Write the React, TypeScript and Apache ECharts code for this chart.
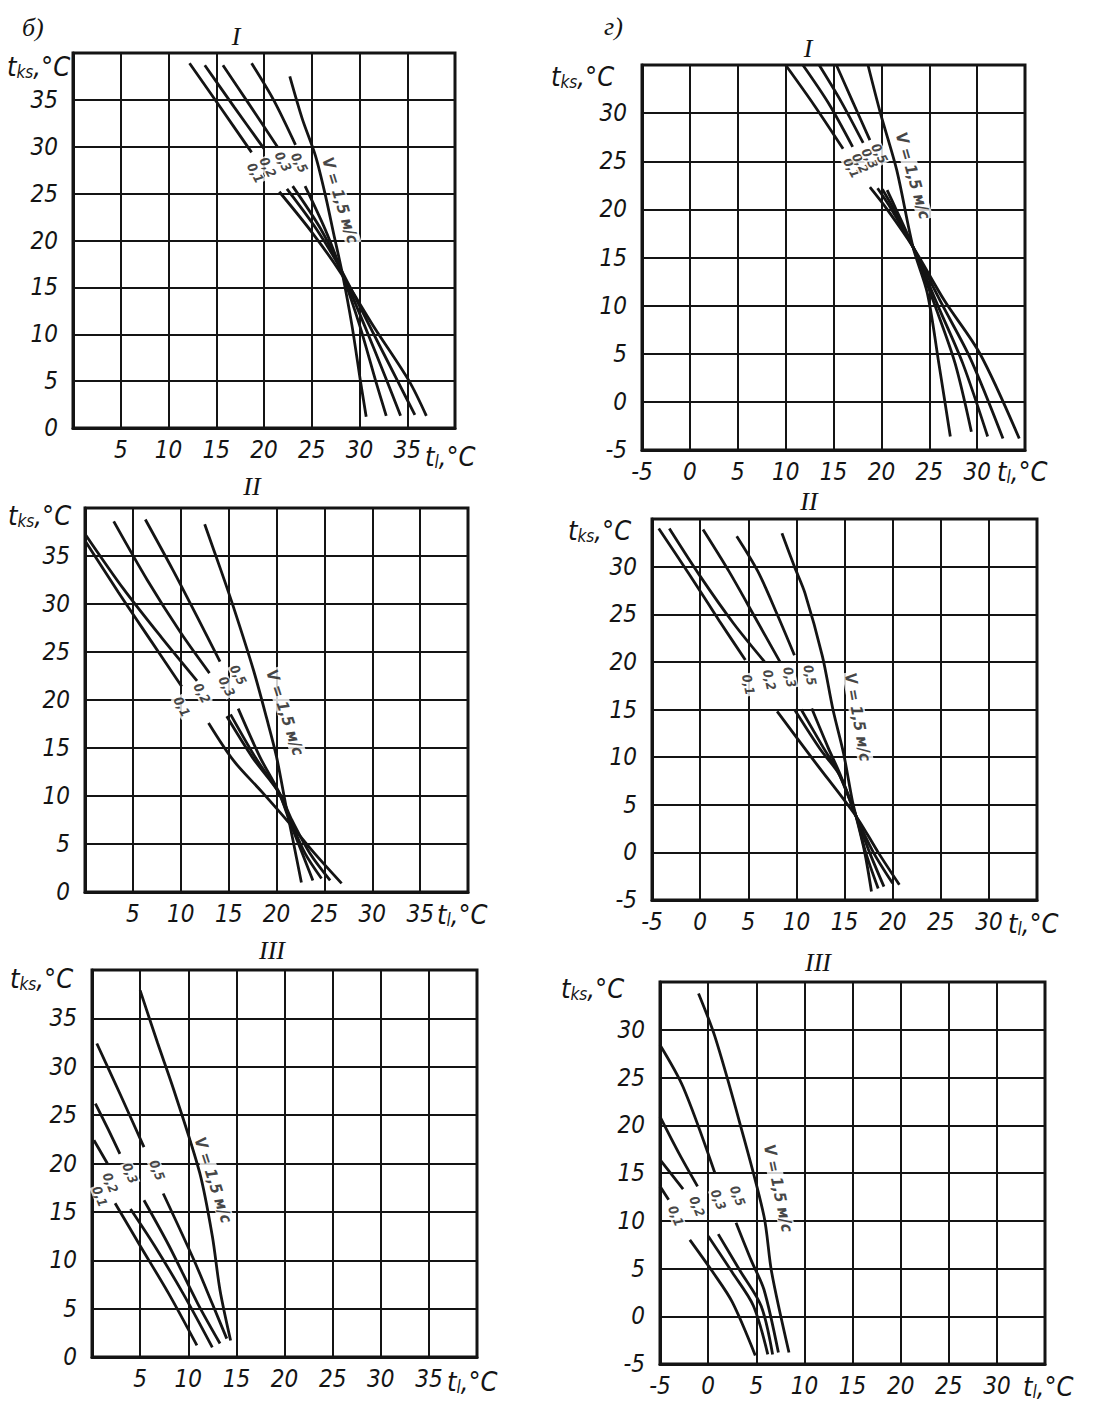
import React, { useEffect, useRef } from 'react';
import * as echarts from 'echarts';

type P = [number, number] | null;

// ---------- Panel б) I ----------
const a_v01: P[] = [[12.2, 38.9], [15.5, 34.1], [18.7, 29.4], null, [21.6, 25.2], [25, 20.9], [28, 16.6], [31.5, 10.8], [35.2, 5], [37, 1.3]];
const a_v02: P[] = [[13.8, 38.7], [16.9, 34.2], [20, 29.8], null, [22.4, 25.5], [25.5, 21.2], [28, 17], [31, 11], [34, 5], [35.8, 1.4]];
const a_v03: P[] = [[15.7, 38.7], [18.4, 34.6], [21.4, 30], null, [23, 25.8], [25.9, 21.3], [28, 17], [30.5, 11], [32.8, 5.2], [34.3, 1.3]];
const a_v05: P[] = [[18.7, 38.9], [21, 35], [23.3, 30.2], null, [24.3, 25.8], [26.4, 21.2], [28, 17], [30, 11], [31.7, 5], [32.8, 1.3]];
const a_v15: P[] = [[22.7, 37.5], [24, 33], [25.4, 29], [26.5, 24.5], [27.3, 20.7], [28.2, 16.5], [29.2, 11], [30.1, 5], [30.7, 1.2]];
const a_smallPos: [number, number][] = [[19.1, 27.2], [20.4, 27.8], [22.0, 28.4], [23.7, 28.3]];
const a_vPos: [number, number] = [28.0, 24.3];

// ---------- Panel г) I ----------
const b_v01: P[] = [[10, 35], [13, 30.8], [16, 26.3], null, [18.8, 22.3], [20.6, 20], [23.3, 16.1], [26.6, 10.5], [30.3, 5], [34.4, -3.8]];
const b_v02: P[] = [[11.8, 35], [14.5, 31], [17, 26.5], null, [19.6, 22.2], [21, 20.1], [23.3, 16.1], [26.3, 10.2], [29.3, 4.5], [32.7, -3.8]];
const b_v03: P[] = [[13.5, 35], [15.8, 31.2], [18.1, 26.9], null, [20.1, 22.1], [21.2, 20.2], [23.3, 16.1], [25.9, 10], [28.5, 4], [31.1, -3.6]];
const b_v05: P[] = [[15.3, 35], [17, 31.2], [18.8, 27.2], null, [20.6, 22], [21.4, 20.3], [23.3, 16.1], [25.6, 10], [27.7, 4], [29.4, -3.1]];
const b_v15: P[] = [[18.6, 35], [19.9, 30], [21.6, 24.1], [23.3, 16.1], [24.8, 11.3], [26, 4], [27.2, -3.6]];
const b_smallPos: [number, number][] = [[16.9, 24.3], [17.8, 24.8], [18.8, 25.3], [19.8, 25.8]];
const b_vPos: [number, number] = [23.3, 23.5];

// ---------- Panel б) II ----------
const c_v01: P[] = [[0, 36.6], [3.5, 31.2], [7, 26], [10.1, 21.4], null, [12.9, 17.6], [15.5, 13.7], [18.5, 10.4], [21.4, 7.1], [24, 4], [26.8, 0.9]];
const c_v02: P[] = [[0, 37.3], [4, 31.6], [8, 26.5], [11.7, 22], null, [14.8, 18.3], [17.5, 14], [20.3, 10.3], [21.6, 7.5], [23.5, 4], [25.6, 1.2]];
const c_v03: P[] = [[3, 38.6], [6.5, 32.5], [10, 27], [13, 22.8], null, [15.2, 18.5], [17.8, 14], [20.2, 10.4], [21.5, 7.3], [23, 4], [24.7, 1.4]];
const c_v05: P[] = [[6.3, 38.8], [9.2, 33.5], [11.8, 28.5], [14.1, 24], null, [16, 19.1], [18.3, 14], [20.2, 10.5], [21.4, 7.3], [22.7, 4], [23.8, 1.2]];
const c_v15: P[] = [[12.5, 38.3], [14.2, 33.5], [15.5, 29.7], [17.6, 23.1], [19, 18], [20, 14.1], [21, 8.9], [21.7, 5.5], [22.6, 1.0]];
const c_smallPos: [number, number][] = [[10.1, 19.3], [12.2, 20.7], [14.8, 21.4], [16, 22.6]];
const c_vPos: [number, number] = [20.9, 18.7];

// ---------- Panel г) II ----------
const d_v01: P[] = [[-4.3, 34], [-1, 29], [2, 24.3], [4.7, 20.2], null, [8, 14.8], [12, 9.4], [16.2, 3.8], [18.5, 0], [20.7, -3.4]];
const d_v02: P[] = [[-3.2, 34], [0, 29], [3.5, 24], [6.7, 20], null, [9.8, 15], [12.5, 10.8], [14.5, 8.1], [16.2, 3.8], [18, 0], [20, -3.25]];
const d_v03: P[] = [[0.3, 33.9], [3, 29.5], [5.8, 24.5], [8.3, 20], null, [10.5, 15], [12.8, 11], [14.4, 8.3], [16.2, 3.8], [17.6, 0], [19.1, -3.6]];
const d_v05: P[] = [[3.8, 33.2], [6, 29.5], [8, 25], [9.8, 20.7], null, [11.6, 15.1], [13.3, 11], [14.5, 8.3], [16.2, 3.8], [17.2, 0], [18.5, -3.8]];
const d_v15: P[] = [[8.5, 33.5], [9.8, 30], [10.9, 27.2], [12.7, 20.6], [13.8, 15], [14.9, 10.4], [15.8, 5.5], [16.2, 3.8], [17.1, 0], [17.8, -4.1]];
const d_smallPos: [number, number][] = [[5.0, 17.6], [7.2, 18.1], [9.3, 18.4], [11.4, 18.6]];
const d_vPos: [number, number] = [16.4, 14.2];

// ---------- Panel б) III ----------
const e_v01: P[] = [[2.4, 15.9], [5, 11.5], [8, 6.5], [10.9, 1.2]];
const e_v02: P[] = [[0.2, 22.4], [1.6, 20], null, [4, 15.3], [6.5, 11.5], [9.5, 6.5], [12.5, 1.0]];
const e_v03: P[] = [[0.35, 26.2], [1.7, 23.5], [2.9, 21], null, [5.4, 16.2], [8, 11.5], [11, 5.5], [13.3, 1.4]];
const e_v05: P[] = [[0.5, 32.4], [3, 27], [5.4, 21.7], null, [7.4, 16.9], [10.6, 10], [12.5, 5.5], [14, 1.9]];
const e_v15: P[] = [[5, 37.9], [6.8, 32.5], [8.5, 27.6], [11.2, 19], [12.5, 12.5], [13.3, 6.9], [14.4, 1.7]];
const e_smallPos: [number, number][] = [[0.8, 16.6], [1.9, 18.0], [3.95, 19.0], [6.75, 19.3]];
const e_vPos: [number, number] = [12.6, 18.3];

// ---------- Panel г) III ----------
const f_v01: P[] = [[-5, 13.6], [-4.1, 12.2], null, [-1.9, 8], [0.5, 4.6], [2.5, 1.5], [4.9, -4.1]];
const f_v02: P[] = [[-5, 16.4], [-2.6, 13.3], null, [0, 8.4], [2.5, 4.6], [4.7, 1.1], [6.2, -4]];
const f_v03: P[] = [[-5, 20.9], [-3, 17], [-1.1, 13.6], null, [1.05, 8.6], [3.3, 4.8], [5.5, 1.1], [6.7, -4]];
const f_v05: P[] = [[-5, 28.4], [-2.6, 24], [0.7, 15], null, [2.9, 9.8], [4.5, 5.8], [5.8, 2.8], [7.3, -3.8]];
const f_v15: P[] = [[-1, 33.8], [0.7, 29.3], [3.3, 20.2], [5.8, 10.5], [6.6, 4.6], [8.4, -3.8]];
const f_smallPos: [number, number][] = [[-3.35, 10.5], [-1.15, 11.5], [1.05, 12.2], [3.07, 12.6]];
const f_vPos: [number, number] = [7.3, 13.4];

const smallLabels = ['0,1', '0,2', '0,3', '0,5'];
const V_LABEL = 'V = 1,5 м/с';
const panelLetters = ['б)', 'г)'];
const romans = ['I', 'I', 'II', 'II', 'III', 'III'];

const INK = '#141414';
const FONT = "'Liberation Sans Narrow', 'DejaVu Sans Condensed', 'Liberation Sans', 'DejaVu Sans', sans-serif";
const SERIF = "'Liberation Serif', 'DejaVu Serif', serif";

const panels = [
  { grid: { left: 73, top: 53, width: 382, height: 375 }, x: [0, 40], y: [0, 40], curves: [a_v01, a_v02, a_v03, a_v05, a_v15], small: a_smallPos, vPos: a_vPos, sRot: -62, vRot: -73, ks: [7, 50], tl: [425, 440], rom: [236, 36] },
  { grid: { left: 642, top: 65, width: 383, height: 385 }, x: [-5, 35], y: [-5, 35], curves: [b_v01, b_v02, b_v03, b_v05, b_v15], small: b_smallPos, vPos: b_vPos, sRot: -62, vRot: -74, ks: [551, 60], tl: [997, 455], rom: [808, 48] },
  { grid: { left: 85, top: 508, width: 383, height: 384 }, x: [0, 40], y: [0, 40], curves: [c_v01, c_v02, c_v03, c_v05, c_v15], small: c_smallPos, vPos: c_vPos, sRot: -62, vRot: -72, ks: [8, 499], tl: [437, 898], rom: [252, 486] },
  { grid: { left: 652, top: 519, width: 385, height: 381 }, x: [-5, 35], y: [-5, 35], curves: [d_v01, d_v02, d_v03, d_v05, d_v15], small: d_smallPos, vPos: d_vPos, sRot: -78, vRot: -80, ks: [568, 514], tl: [1008, 907], rom: [809, 501] },
  { grid: { left: 92, top: 970, width: 385, height: 387 }, x: [0, 40], y: [0, 40], curves: [e_v01, e_v02, e_v03, e_v05, e_v15], small: e_smallPos, vPos: e_vPos, sRot: -68, vRot: -72, ks: [10, 962], tl: [447, 1365], rom: [272, 950] },
  { grid: { left: 660, top: 982, width: 385, height: 382 }, x: [-5, 35], y: [-5, 35], curves: [f_v01, f_v02, f_v03, f_v05, f_v15], small: f_smallPos, vPos: f_vPos, sRot: -68, vRot: -78, ks: [561, 972], tl: [1023, 1370], rom: [818, 962] },
];

const tickLabel = {
  color: INK,
  fontFamily: FONT,
  fontStyle: 'italic' as const,
  fontSize: 24,
};

function axisName(sub: string, x: number, y: number) {
  return {
    type: 'text',
    x,
    y,
    silent: true,
    style: {
      text: `{t|t}{s|${sub}}{t|,°C}`,
      fill: INK,
      rich: {
        t: { fontSize: 27, fontFamily: FONT, fontStyle: 'italic', fill: INK, lineHeight: 30, verticalAlign: 'bottom' },
        s: { fontSize: 17, fontFamily: FONT, fontStyle: 'italic', fill: INK, lineHeight: 17, verticalAlign: 'bottom' },
      },
    },
  };
}

function buildOption() {
  const grid: any[] = [];
  const xAxis: any[] = [];
  const yAxis: any[] = [];
  const series: any[] = [];
  const graphic: any[] = [];

  panels.forEach((p, i) => {
    grid.push({ ...p.grid, show: true, borderColor: INK, borderWidth: 3, backgroundColor: '#fff' });
    const [xmin, xmax] = p.x;
    const [ymin, ymax] = p.y;
    xAxis.push({
      gridIndex: i, type: 'value', min: xmin, max: xmax, interval: 5,
      axisLine: { show: true, onZero: false, lineStyle: { color: INK, width: 3 } },
      axisTick: { show: false },
      splitLine: { show: true, lineStyle: { color: INK, width: 2 } },
      axisLabel: {
        ...tickLabel, margin: 10, showMinLabel: true, showMaxLabel: true,
        formatter: (v: number) => (v === xmax || (v === 0 && xmin === 0) ? '' : String(v)),
      },
    });
    yAxis.push({
      gridIndex: i, type: 'value', min: ymin, max: ymax, interval: 5,
      axisLine: { show: true, onZero: false, lineStyle: { color: INK, width: 3 } },
      axisTick: { show: false },
      splitLine: { show: true, lineStyle: { color: INK, width: 2 } },
      axisLabel: {
        ...tickLabel, margin: 15, showMinLabel: true, showMaxLabel: true,
        formatter: (v: number) => (v === ymax ? '' : String(v)),
      },
    });
    p.curves.forEach((c) => {
      series.push({
        type: 'line', xAxisIndex: i, yAxisIndex: i,
        data: c.map((pt) => (pt ? pt : ['-', '-'])),
        symbol: 'none', showSymbol: false, smooth: 0.3, connectNulls: false, silent: true, z: 3,
        lineStyle: { color: INK, width: 2.8 },
      });
    });
    series.push({
      type: 'scatter', xAxisIndex: i, yAxisIndex: i, symbolSize: 1, silent: true, z: 6,
      itemStyle: { color: 'rgba(0,0,0,0)' },
      label: {
        show: true, position: 'inside', color: INK, fontFamily: FONT, fontStyle: 'italic', fontWeight: 'bold',
        backgroundColor: '#fff', padding: [0, 1],
      },
      data: [
        ...p.small.map((pos, k) => ({ value: pos, label: { formatter: smallLabels[k], rotate: p.sRot, fontSize: 13 } })),
        { value: p.vPos, label: { formatter: V_LABEL, rotate: p.vRot, fontSize: 16 } },
      ],
    });
    graphic.push(axisName('ks', p.ks[0], p.ks[1]));
    graphic.push(axisName('l', p.tl[0], p.tl[1]));
    graphic.push({
      type: 'text', x: p.rom[0], y: p.rom[1], silent: true,
      style: { text: romans[i], fill: INK, font: `italic 26px ${SERIF}`, align: 'center', verticalAlign: 'middle' },
    });
  });

  graphic.push({ type: 'text', x: 22, y: 14, silent: true, style: { text: panelLetters[0], fill: INK, font: `italic 26px ${SERIF}` } });
  graphic.push({ type: 'text', x: 604, y: 13, silent: true, style: { text: panelLetters[1], fill: INK, font: `italic 26px ${SERIF}` } });

  return { animation: false, backgroundColor: '#fff', grid, xAxis, yAxis, series, graphic };
}

export default function App() {
  const ref = useRef<HTMLDivElement>(null);
  useEffect(() => {
    if (!ref.current) return;
    const chart = echarts.init(ref.current, undefined, { renderer: 'svg' });
    chart.setOption(buildOption() as any);
    return () => chart.dispose();
  }, []);
  return (
    <div
      ref={ref}
      style={{ position: 'absolute', left: 0, top: 0, width: 1093, height: 1407, background: '#fff' }}
    />
  );
}
